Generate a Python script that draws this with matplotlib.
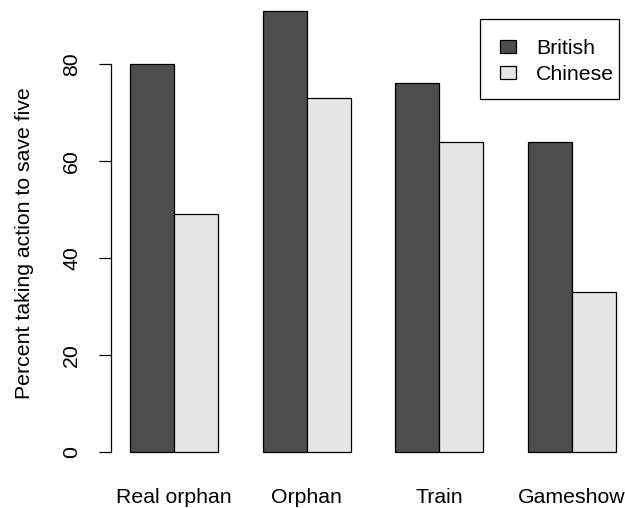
import matplotlib
matplotlib.use("Agg")
import matplotlib.pyplot as plt
from matplotlib.patches import Rectangle
import numpy as np

categories = ["Real orphan", "Orphan", "Train", "Gameshow"]
british = [80, 91, 76, 64]
chinese = [49, 73, 64, 33]
series_names = ["British", "Chinese"]
yticks = [0, 20, 40, 60, 80]

plt.rcParams['font.family'] = ['Liberation Sans', 'DejaVu Sans']
FS = 15.3

W, H = 625, 508
fig = plt.figure(figsize=(W/100, H/100), dpi=100)
L, R, T, B = 111, 619, 18, 469
ax = fig.add_axes([L/W, 1 - B/H, (R-L)/W, (B-T)/H])

c_dark = "#4D4D4D"
c_light = "#E5E5E5"
colors = [c_dark, c_light]
n = len(categories)
left_b = 1 + 3*np.arange(n)
left_c = left_b + 1
ax.bar(left_b, british, width=1, align='edge', color=c_dark, edgecolor='black', linewidth=0.9, clip_on=False)
ax.bar(left_c, chinese, width=1, align='edge', color=c_light, edgecolor='black', linewidth=0.9, clip_on=False)

ax.set_xlim(0.570, 12.068)
ax.set_ylim(-3.5, 89.5)
for s in ['top', 'right', 'bottom']:
    ax.spines[s].set_visible(False)
ax.spines['left'].set_bounds(0, 80)
ax.spines['left'].set_linewidth(0.9)
ax.set_yticks(yticks)
ax.set_yticklabels([str(v) for v in yticks], rotation=90, va='center', fontsize=FS)
ax.tick_params(axis='y', length=8.6, width=0.9, pad=13)
ax.set_xticks(left_c)
ax.set_xticklabels(categories, fontsize=FS)
ax.tick_params(axis='x', length=0, pad=14)
ax.set_ylabel("Percent taking action to save five", fontsize=FS, labelpad=20)

# legend drawn manually (R style: box at top right)
def fx(px):
    return px / W
def fy(py):
    return 1 - py / H

fig.add_artist(Rectangle((fx(480), fy(99)), fx(619) - fx(480), fy(19) - fy(99),
                         transform=fig.transFigure, facecolor='white', edgecolor='black',
                         linewidth=0.9))
row_centers = [46, 72.5]
for name, col, yc in zip(series_names, colors, row_centers):
    fig.add_artist(Rectangle((fx(500), fy(yc + 6.5)), fx(516) - fx(500), 13 / H,
                             transform=fig.transFigure, facecolor=col, edgecolor='black',
                             linewidth=0.9))
    fig.text(fx(536), fy(yc), name, fontsize=FS, va='center_baseline', ha='left')

fig.savefig("out.png", dpi=100)
